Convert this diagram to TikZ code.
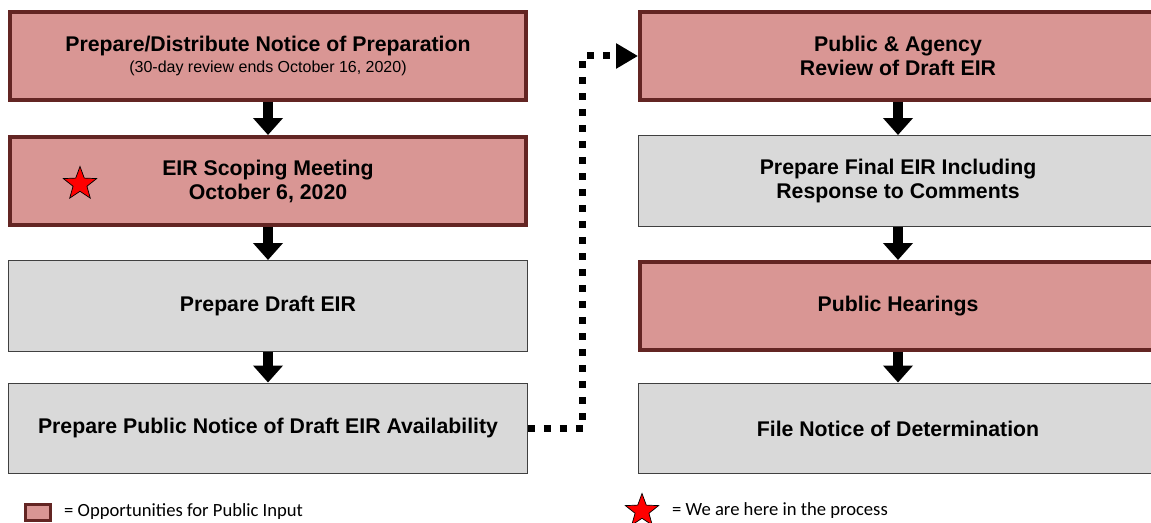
\documentclass[tikz,border=0pt]{standalone}
\usepackage{fontspec}
\setmainfont{Liberation Sans}
\newfontfamily\keyfont{Carlito}
\usetikzlibrary{arrows.meta,shapes.geometric}

\definecolor{inputfill}{RGB}{217,150,148}
\definecolor{inputline}{RGB}{99,37,35}
\definecolor{stepfill}{RGB}{217,217,217}
\definecolor{stepline}{RGB}{64,64,64}

\begin{document}
\begin{tikzpicture}[x=0.02cm,y=-0.02cm,
    inputbox/.style={draw=inputline,fill=inputfill,line width=0.08cm,
        minimum width=10.32cm,minimum height=1.76cm,inner sep=0pt,
        align=center,font=\fontsize{12.1}{13.7}\selectfont\bfseries},
    stepbox/.style={draw=stepline,fill=stepfill,line width=0.02cm,
        minimum width=10.38cm,minimum height=1.82cm,inner sep=0pt,
        align=center,font=\fontsize{12.1}{13.7}\selectfont\bfseries},
    flow/.style={line width=0.2cm,-{Triangle[width=0.58cm,length=0.34cm]}},
    dotflow/.style={line width=0.14cm,dash pattern=on 0.14cm off 0.18cm,
        -{Triangle[width=0.48cm,length=0.44cm]}},
    herestar/.style={star,star points=5,star point ratio=2.4,draw=black,
        fill=red,line width=0.4pt,minimum size=0.7cm,inner sep=0pt},
    keytext/.style={anchor=west,font=\keyfont\fontsize{10.6}{12}\selectfont}]
    \useasboundingbox (0,0) rectangle (1151,523);

    % left column
    \node[inputbox] (notice) at (268,56) {Prepare/Distribute Notice of Preparation\\[-2pt]
        {\mdseries\fontsize{9.1}{11}\selectfont (30-day review ends October 16, 2020)}};
    \node[inputbox] (scoping) at (268,181) {EIR Scoping Meeting\\October 6, 2020};
    \node[stepbox] (draft) at (268,306) {Prepare Draft EIR};
    \node[stepbox] (availability) at (268,428.5) {Prepare Public Notice of Draft EIR Availability};

    % right column
    \node[inputbox] (review) at (898,56) {Public \& Agency\\Review of Draft EIR};
    \node[stepbox] (final) at (898,181) {Prepare Final EIR Including\\Response to Comments};
    \node[inputbox] (hearings) at (898,306) {Public Hearings};
    \node[stepbox] (determination) at (898,428.5) {File Notice of Determination};

    % arrows
    \draw[flow] (notice) -- (scoping);
    \draw[flow] (scoping) -- (draft);
    \draw[flow] (draft) -- (availability);
    \draw[flow] (review) -- (final);
    \draw[flow] (final) -- (hearings);
    \draw[flow] (hearings) -- (determination);
    \draw[dotflow] (availability.east) -- ++(55,0) |- (review.west);

    % star
    \node[herestar] (here) at (80,184) {};

    % key
    \node[draw=inputline,fill=inputfill,line width=0.06cm,minimum width=0.5cm,
        minimum height=0.32cm,inner sep=0pt] (keybox) at (38,512.5) {};
    \node[keytext] (keyinput) at (58,512) {= Opportunities for Public Input};
    \node[herestar] (keystar) at (642,511) {};
    \node[keytext] (keyhere) at (666,511) {= We are here in the process};
\end{tikzpicture}
\end{document}
